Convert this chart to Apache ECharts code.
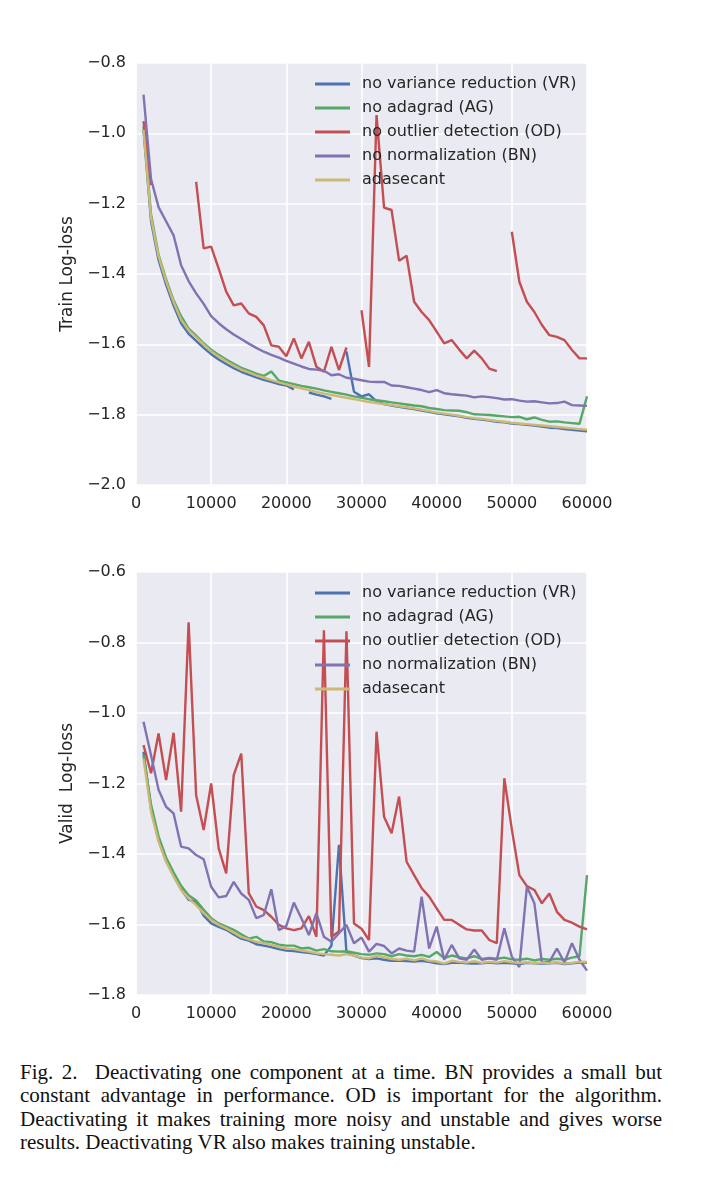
<!DOCTYPE html>
<html>
<head>
<meta charset="utf-8">
<script src="https://cdn.jsdelivr.net/npm/echarts@6/dist/echarts.min.js"></script>
<style>
  html, body { margin: 0; padding: 0; background: #ffffff; }
  #chart { position: absolute; left: 0; top: 0; width: 714px; height: 1040px; }
  #caption {
    position: absolute; left: 20px; top: 1061px; width: 642px;
    font-family: "Liberation Serif", "Times New Roman", serif;
    font-size: 21px; line-height: 23.3px; color: #111;
    text-align: justify;
  }
</style>
</head>
<body>
<div id="chart"></div>
<div id="caption">Fig. 2.&nbsp;&nbsp;Deactivating one component at a time. BN provides a small but constant advantage in performance. OD is important for the algorithm. Deactivating it makes training more noisy and unstable and gives worse results. Deactivating VR also makes training unstable.</div>
<script>
// ---------- data ----------
const iters = [1000,2000,3000,4000,5000,6000,7000,8000,9000,10000,
  11000,12000,13000,14000,15000,16000,17000,18000,19000,20000,
  21000,22000,23000,24000,25000,26000,27000,28000,29000,30000,
  31000,32000,33000,34000,35000,36000,37000,38000,39000,40000,
  41000,42000,43000,44000,45000,46000,47000,48000,49000,50000,
  51000,52000,53000,54000,55000,56000,57000,58000,59000,60000];

const seriesNames = ['no variance reduction (VR)','no adagrad (AG)','no outlier detection (OD)','no normalization (BN)','adasecant'];
const xTicks = [0,10000,20000,30000,40000,50000,60000];

// Train log-loss
const trainVR = [-0.99,-1.25,-1.36,-1.43,-1.49,-1.54,-1.57,-1.59,-1.61,-1.628,
  -1.643,-1.656,-1.668,-1.678,-1.686,-1.694,-1.701,-1.707,-1.713,-1.717,
  -1.728,null,-1.737,-1.743,-1.748,-1.755,null,-1.62,-1.735,-1.748,
  -1.742,-1.762,-1.77,-1.774,-1.778,-1.781,-1.784,-1.788,-1.792,-1.796,
  -1.799,-1.802,-1.805,-1.809,-1.812,-1.814,-1.817,-1.82,-1.822,-1.825,
  -1.827,-1.829,-1.831,-1.834,-1.837,-1.838,-1.841,-1.843,-1.845,-1.847];
const trainAG = [-0.98,-1.23,-1.345,-1.415,-1.475,-1.52,-1.555,-1.575,-1.597,-1.615,
  -1.63,-1.643,-1.655,-1.667,-1.675,-1.683,-1.69,-1.677,-1.703,-1.708,
  -1.713,-1.718,-1.722,-1.726,-1.731,-1.735,-1.739,-1.743,-1.748,-1.752,
  -1.756,-1.759,-1.762,-1.765,-1.768,-1.771,-1.774,-1.776,-1.781,-1.784,
  -1.787,-1.788,-1.789,-1.793,-1.799,-1.8,-1.801,-1.803,-1.805,-1.807,
  -1.806,-1.813,-1.808,-1.815,-1.82,-1.819,-1.822,-1.824,-1.826,-1.748];
const trainOD = [-0.965,-1.147,null,null,null,null,null,-1.138,-1.327,-1.322,
  -1.385,-1.45,-1.489,-1.484,-1.512,-1.522,-1.546,-1.603,-1.607,-1.634,
  -1.583,-1.64,-1.593,-1.664,-1.678,-1.607,-1.673,-1.609,null,-1.503,
  -1.664,-0.948,-1.211,-1.218,-1.362,-1.348,-1.479,-1.508,-1.531,-1.564,
  -1.597,-1.588,-1.615,-1.64,-1.618,-1.64,-1.669,-1.676,null,-1.28,
  -1.422,-1.479,-1.508,-1.545,-1.574,-1.579,-1.588,-1.616,-1.64,-1.64];
const trainBN = [-0.89,-1.13,-1.21,-1.25,-1.29,-1.375,-1.42,-1.455,-1.485,-1.52,
  -1.54,-1.557,-1.572,-1.585,-1.598,-1.61,-1.621,-1.63,-1.638,-1.647,
  -1.655,-1.663,-1.67,-1.672,-1.675,-1.688,-1.685,-1.695,-1.698,-1.702,
  -1.706,-1.707,-1.707,-1.717,-1.718,-1.722,-1.726,-1.73,-1.736,-1.73,
  -1.739,-1.742,-1.744,-1.746,-1.751,-1.748,-1.75,-1.753,-1.757,-1.756,
  -1.76,-1.763,-1.762,-1.765,-1.768,-1.767,-1.763,-1.773,-1.774,-1.775];
const trainADA = [-0.99,-1.24,-1.35,-1.42,-1.48,-1.53,-1.56,-1.58,-1.6,-1.62,
  -1.635,-1.648,-1.66,-1.672,-1.68,-1.688,-1.695,-1.702,-1.708,-1.714,
  -1.72,-1.725,-1.73,-1.735,-1.74,-1.744,-1.748,-1.752,-1.756,-1.76,
  -1.764,-1.767,-1.77,-1.773,-1.776,-1.779,-1.782,-1.786,-1.79,-1.794,
  -1.797,-1.8,-1.803,-1.807,-1.81,-1.812,-1.815,-1.818,-1.82,-1.823,
  -1.825,-1.827,-1.829,-1.831,-1.833,-1.835,-1.837,-1.839,-1.841,-1.843];

// Valid log-loss
const validVR = [-1.11,-1.27,-1.36,-1.42,-1.46,-1.5,-1.53,-1.535,-1.575,-1.597,
  -1.607,-1.615,-1.628,-1.64,-1.646,-1.656,-1.66,-1.664,-1.67,-1.674,
  -1.675,-1.678,-1.68,-1.684,-1.688,-1.66,-1.374,-1.68,-1.688,-1.695,
  -1.698,-1.696,-1.7,-1.703,-1.702,-1.704,-1.705,-1.703,-1.706,-1.71,
  -1.712,-1.709,-1.708,-1.71,-1.711,-1.71,-1.708,-1.71,-1.709,-1.71,
  -1.712,-1.709,-1.71,-1.711,-1.71,-1.709,-1.712,-1.71,-1.708,-1.708];
const validAG = [-1.12,-1.26,-1.35,-1.41,-1.452,-1.49,-1.517,-1.532,-1.558,-1.582,
  -1.597,-1.606,-1.615,-1.628,-1.64,-1.635,-1.648,-1.65,-1.657,-1.66,
  -1.66,-1.668,-1.666,-1.674,-1.67,-1.676,-1.677,-1.676,-1.68,-1.684,
  -1.686,-1.682,-1.684,-1.69,-1.684,-1.688,-1.69,-1.686,-1.692,-1.678,
  -1.695,-1.688,-1.693,-1.696,-1.69,-1.698,-1.695,-1.697,-1.694,-1.699,
  -1.7,-1.697,-1.702,-1.698,-1.7,-1.697,-1.7,-1.694,-1.69,-1.46];
const validOD = [-1.091,-1.171,-1.058,-1.19,-1.056,-1.28,-0.743,-1.233,-1.332,-1.2,
  -1.384,-1.455,-1.176,-1.115,-1.511,-1.549,-1.559,-1.578,-1.601,-1.611,
  -1.616,-1.611,-1.576,-1.635,-0.765,-1.635,-1.62,-0.768,-1.597,-1.612,
  -1.644,-1.053,-1.294,-1.341,-1.237,-1.422,-1.46,-1.497,-1.521,-1.554,
  -1.587,-1.587,-1.601,-1.614,-1.617,-1.617,-1.644,-1.653,-1.185,-1.33,
  -1.46,-1.491,-1.502,-1.54,-1.512,-1.564,-1.587,-1.595,-1.606,-1.614];
const validBN = [-1.025,-1.12,-1.218,-1.266,-1.285,-1.379,-1.384,-1.403,-1.415,-1.493,
  -1.523,-1.519,-1.479,-1.512,-1.53,-1.582,-1.573,-1.5,-1.616,-1.604,
  -1.538,-1.582,-1.63,-1.568,-1.635,-1.649,-1.625,-1.601,-1.653,-1.637,
  -1.677,-1.655,-1.661,-1.682,-1.668,-1.674,-1.677,-1.521,-1.668,-1.606,
  -1.7,-1.658,-1.696,-1.7,-1.671,-1.7,-1.696,-1.7,-1.611,-1.691,
  -1.721,-1.493,-1.54,-1.708,-1.706,-1.668,-1.708,-1.653,-1.7,-1.731];
const validADA = [-1.13,-1.28,-1.365,-1.422,-1.464,-1.502,-1.526,-1.545,-1.568,-1.587,
  -1.601,-1.611,-1.623,-1.635,-1.642,-1.649,-1.653,-1.658,-1.663,-1.668,
  -1.67,-1.674,-1.677,-1.682,-1.684,-1.686,-1.688,-1.684,-1.688,-1.694,
  -1.696,-1.688,-1.693,-1.698,-1.7,-1.697,-1.702,-1.696,-1.703,-1.705,
  -1.711,-1.703,-1.706,-1.708,-1.704,-1.709,-1.706,-1.708,-1.704,-1.707,
  -1.709,-1.707,-1.71,-1.708,-1.71,-1.707,-1.711,-1.709,-1.706,-1.706];

// ---------- chart ----------
const colors = ['#4C72B0','#55A868','#C44E52','#8172B2','#CCB974'];
const FONT = '"DejaVu Sans", sans-serif';
const TXT = '#262626';
const pairs = arr => iters.map((x, i) => [x, arr[i]]);
const fmtY = v => (v < 0 ? '\u2212' : '') + Math.abs(v).toFixed(1);

function xAxis(gi) {
  return {
    type: 'value', gridIndex: gi, min: 0, max: 60000, interval: 10000,
    axisLine: {show: false}, axisTick: {show: false},
    axisLabel: {color: TXT, fontFamily: FONT, fontSize: 16, margin: 11,
      formatter: v => xTicks.includes(v) ? String(v) : ''},
    splitLine: {show: true, lineStyle: {color: '#ffffff', width: 1.6}}
  };
}
function yAxis(gi, min, max, name) {
  return {
    type: 'value', gridIndex: gi, min: min, max: max, interval: 0.2,
    name: name, nameLocation: 'middle', nameGap: 54,
    nameTextStyle: {color: TXT, fontFamily: FONT, fontSize: 17},
    axisLine: {show: false}, axisTick: {show: false},
    axisLabel: {color: TXT, fontFamily: FONT, fontSize: 16, margin: 10, formatter: fmtY},
    splitLine: {show: true, lineStyle: {color: '#ffffff', width: 1.6}}
  };
}
function legend(top) {
  return {
    orient: 'vertical', left: 310, top: top, itemWidth: 35, itemHeight: 3,
    itemGap: 0, icon: 'rect', data: seriesNames, selectedMode: false,
    textStyle: {color: TXT, fontFamily: FONT, fontSize: 16, lineHeight: 24, padding: [0, 0, 0, 7]}
  };
}
function line(name, gi, arr, ci) {
  return {
    name: name, type: 'line', xAxisIndex: gi, yAxisIndex: gi,
    data: pairs(arr), showSymbol: false, symbol: 'none', connectNulls: false,
    lineStyle: {color: colors[ci], width: 2.4}, itemStyle: {color: colors[ci]},
    emphasis: {disabled: true}, silent: true
  };
}

const trainSets = [trainVR, trainAG, trainOD, trainBN, trainADA];
const validSets = [validVR, validAG, validOD, validBN, validADA];

const option = {
  animation: false,
  backgroundColor: '#ffffff',
  grid: [
    {left: 136, top: 63, width: 451, height: 422, show: true, backgroundColor: '#EAEAF2', borderWidth: 0},
    {left: 136, top: 572, width: 451, height: 423, show: true, backgroundColor: '#EAEAF2', borderWidth: 0}
  ],
  xAxis: [xAxis(0), xAxis(1)],
  yAxis: [yAxis(0, -2.0, -0.8, 'Train Log-loss'), yAxis(1, -1.8, -0.6, 'Valid  Log-loss')],
  legend: [legend(67), legend(576)],
  series: [
    ...trainSets.map((a, i) => line(seriesNames[i], 0, a, i)),
    ...validSets.map((a, i) => line(seriesNames[i], 1, a, i))
  ]
};

const chart = echarts.init(document.getElementById('chart'), null, {renderer: 'canvas'});
chart.setOption(option);
</script>
</body>
</html>
